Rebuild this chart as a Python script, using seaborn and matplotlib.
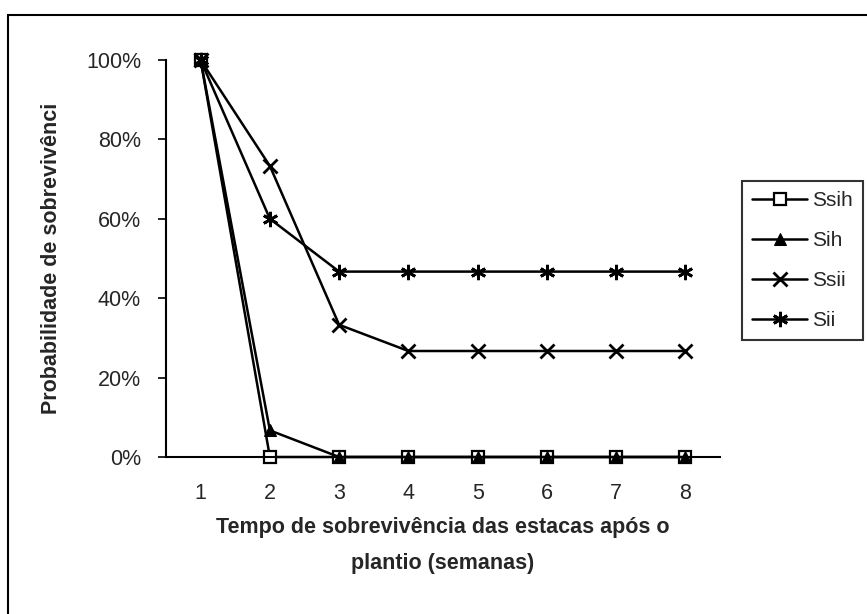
import matplotlib
matplotlib.use("Agg")
import matplotlib.pyplot as plt
import matplotlib.ticker as mticker
from matplotlib.patches import Rectangle
import seaborn as sns
import pandas as pd

# survival probability per week (fractions)
weeks = [1, 2, 3, 4, 5, 6, 7, 8]
ssih = [1.0, 0.0, 0.0, 0.0, 0.0, 0.0, 0.0, 0.0]
sih = [1.0, 0.067, 0.0, 0.0, 0.0, 0.0, 0.0, 0.0]
ssii = [1.0, 0.733, 0.333, 0.267, 0.267, 0.267, 0.267, 0.267]
sii = [1.0, 0.60, 0.467, 0.467, 0.467, 0.467, 0.467, 0.467]
series_names = ["Ssih", "Sih", "Ssii", "Sii"]
y_ticks = [0, 0.2, 0.4, 0.6, 0.8, 1.0]

sns.set_style("white")
plt.rcParams["font.family"] = ["Liberation Sans", "DejaVu Sans"]

fig = plt.figure(figsize=(8.67, 6.14), dpi=100)
ax = fig.add_axes([166 / 867, 1 - 457 / 614, 554 / 867, 397 / 614])

df = pd.DataFrame({"semana": weeks * 4,
                   "prob": ssih + sih + ssii + sii,
                   "serie": sum([[n] * len(weeks) for n in series_names], [])})

styles = {
    "Ssih": dict(marker="s", markerfacecolor="white", markersize=8, markeredgewidth=1.6),
    "Sih": dict(marker="^", markerfacecolor="black", markersize=8),
    "Ssii": dict(marker="x", markersize=10, markeredgewidth=2),
    "Sii": dict(marker=(6, 2, 0), markersize=11, markeredgewidth=2),
}

for name in series_names:
    sub = df[df["serie"] == name]
    sns.lineplot(data=sub, x="semana", y="prob", ax=ax, color="black",
                 linewidth=1.8, label=name, clip_on=False,
                 markeredgecolor="black", **styles[name])

fs = 15.5
ax.set_xlim(0.5, 8.5)
ax.set_ylim(0, 1)
ax.set_yticks(y_ticks)
ax.yaxis.set_major_formatter(mticker.PercentFormatter(1.0, decimals=0))
ax.set_xticks(weeks)
ax.set_xticks([w - 0.5 for w in weeks] + [8.5], minor=True)
ax.tick_params(axis="x", which="major", length=0, pad=19, labelsize=fs)
ax.tick_params(axis="x", which="minor", length=6, width=1.2, direction="out", color="black")
ax.tick_params(axis="y", length=6, width=1.2, direction="out", color="black",
               pad=12, labelsize=fs, left=True)

for side in ["top", "right"]:
    ax.spines[side].set_visible(False)
for side in ["left", "bottom"]:
    ax.spines[side].set_color("black")
    ax.spines[side].set_linewidth(1.5)

ax.set_xlabel("Tempo de sobrevivência das estacas após o\nplantio (semanas)",
              fontsize=fs, fontweight="bold", linespacing=1.95)
ax.xaxis.set_label_coords(0.5, -0.15)
ax.set_ylabel("Probabilidade de sobrevivênci", fontsize=fs, fontweight="bold")
ax.yaxis.set_label_coords(-0.188, 0.5)

leg = ax.legend(loc="upper left", bbox_to_anchor=(742 / 867, 1 - 181 / 614),
                bbox_transform=fig.transFigure, frameon=True, fancybox=False,
                edgecolor="black", fontsize=15, handlelength=2.6,
                handletextpad=0.25, labelspacing=1.0, borderpad=0.5,
                borderaxespad=0)
leg.get_frame().set_linewidth(1.5)

# outer chart-area frame (cut at right and bottom like the scan)
fig.patches.append(Rectangle((8 / 867, -0.1), 1.2, 1.1 - 15 / 614,
                             transform=fig.transFigure, fill=False,
                             edgecolor="black", linewidth=1.5))

fig.savefig("out.png", dpi=100)
